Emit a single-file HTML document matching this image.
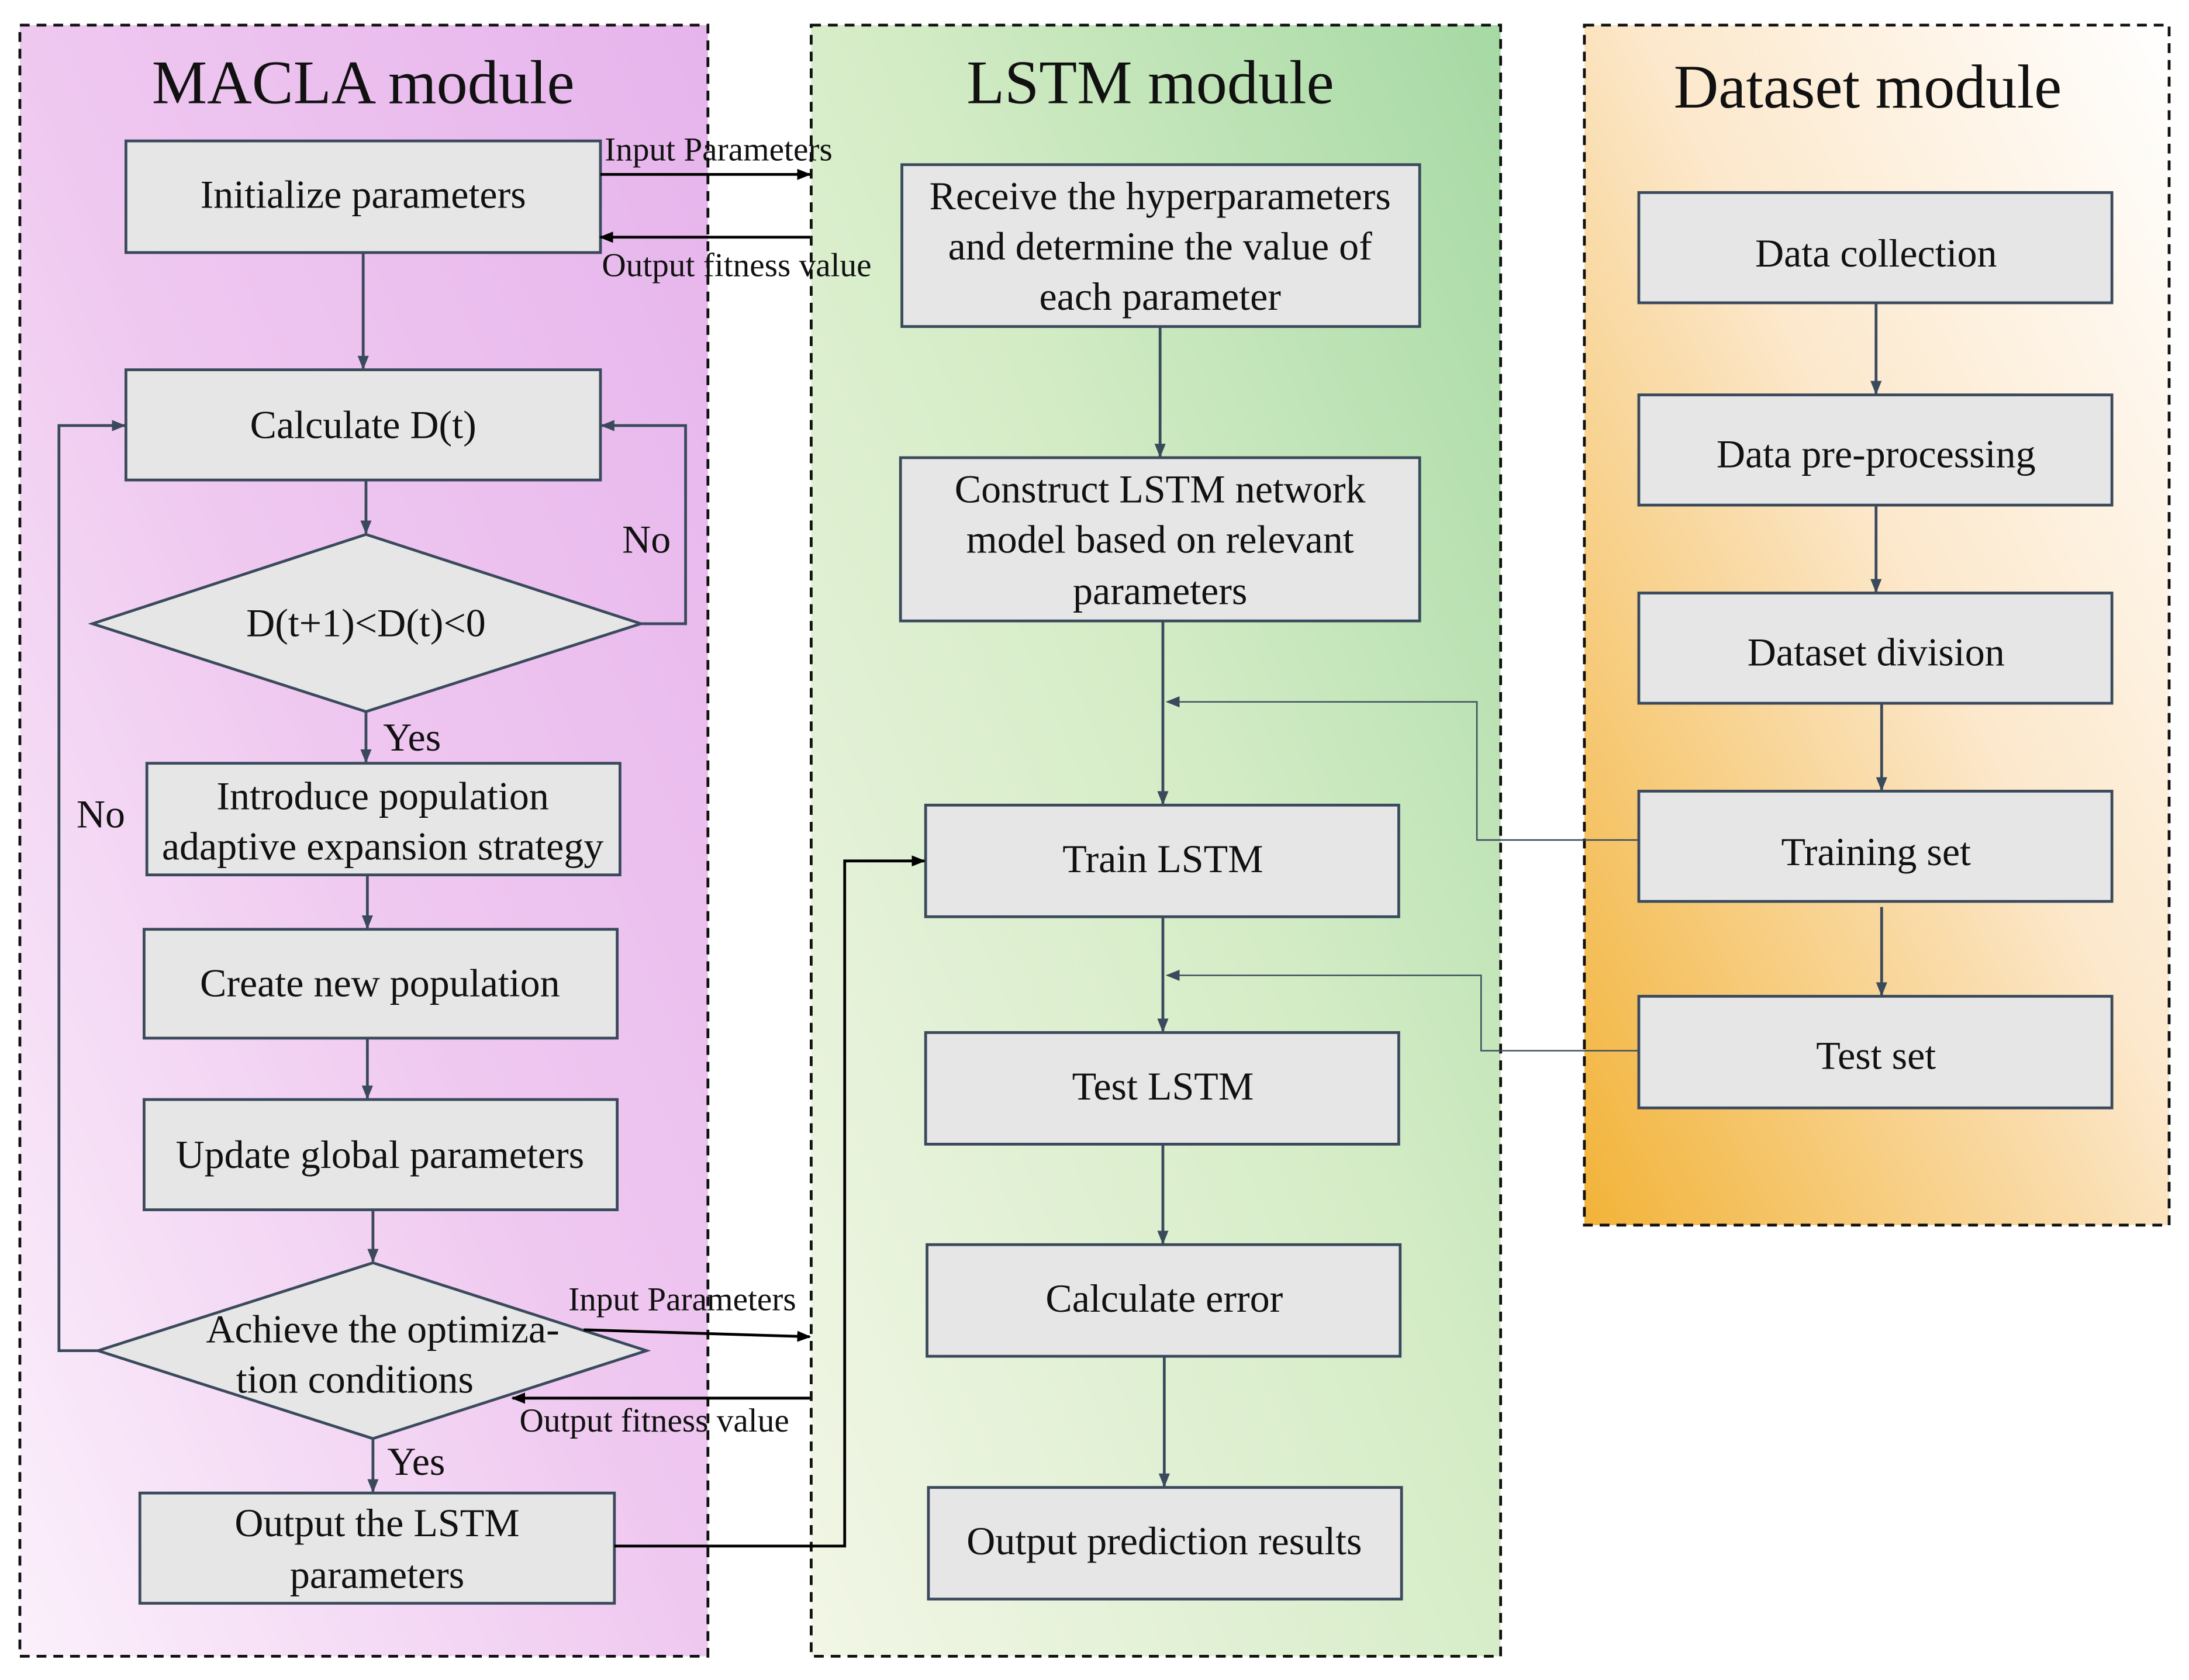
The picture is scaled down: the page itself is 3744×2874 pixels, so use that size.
<!DOCTYPE html>
<html><head><meta charset="utf-8"><style>
html,body{margin:0;padding:0;background:#fff;}
svg{display:block;}
text{font-family:"Liberation Serif",serif;fill:#111;}
</style></head><body>
<svg width="3744" height="2874" viewBox="0 0 1568 1204" xmlns="http://www.w3.org/2000/svg">
<defs>
<linearGradient id="gp" x1="1" y1="0" x2="0" y2="1">
<stop offset="0" stop-color="#e6b4ec"/><stop offset="0.5" stop-color="#efc8f0"/><stop offset="1" stop-color="#fbf0fb"/></linearGradient>
<linearGradient id="gg" x1="1" y1="0" x2="0" y2="1">
<stop offset="0" stop-color="#a6d9a4"/><stop offset="0.45" stop-color="#d4ecc6"/><stop offset="1" stop-color="#f2f6e6"/></linearGradient>
<linearGradient id="go" x1="1" y1="0" x2="0" y2="1">
<stop offset="0" stop-color="#ffffff"/><stop offset="0.45" stop-color="#fce8cc"/><stop offset="1" stop-color="#f2b338"/></linearGradient>
<marker id="a" markerWidth="10" markerHeight="10" refX="9" refY="5" orient="auto" markerUnits="userSpaceOnUse"><path d="M0,1 L10,5 L0,9 z" fill="#3a4a5c"/></marker>
<marker id="b" markerWidth="10" markerHeight="10" refX="9" refY="5" orient="auto" markerUnits="userSpaceOnUse"><path d="M0,1 L10,5 L0,9 z" fill="#000"/></marker>
</defs>
<rect x="14" y="18" width="493" height="1169" fill="url(#gp)" stroke="#111" stroke-width="2" stroke-dasharray="7,5"/>
<rect x="581" y="18" width="494" height="1169" fill="url(#gg)" stroke="#111" stroke-width="2" stroke-dasharray="7,5"/>
<rect x="1135" y="18" width="419" height="860" fill="url(#go)" stroke="#111" stroke-width="2" stroke-dasharray="7,5"/>
<g font-size="44.5" text-anchor="middle">
<text x="260" y="74">MACLA module</text>
<text x="824" y="74">LSTM module</text>
<text x="1338" y="77">Dataset module</text>
</g>
<g fill="#e6e6e6" stroke="#3a4a5c" stroke-width="2">
<rect x="90" y="101" width="340" height="80"/>
<rect x="90" y="265" width="340" height="79"/>
<polygon points="66,447 262,383 459,447 262,510"/>
<rect x="105" y="547" width="339" height="80"/>
<rect x="103" y="666" width="339" height="78"/>
<rect x="103" y="788" width="339" height="79"/>
<polygon points="70,968 267,905 463,968 267,1031"/>
<rect x="100" y="1070" width="340" height="79"/>
<rect x="646" y="118" width="371" height="116"/>
<rect x="645" y="328" width="372" height="117"/>
<rect x="663" y="577" width="339" height="80"/>
<rect x="663" y="740" width="339" height="80"/>
<rect x="664" y="892" width="339" height="80"/>
<rect x="665" y="1066" width="339" height="80"/>
<rect x="1174" y="138" width="339" height="79"/>
<rect x="1174" y="283" width="339" height="79"/>
<rect x="1174" y="425" width="339" height="79"/>
<rect x="1174" y="567" width="339" height="79"/>
<rect x="1174" y="714" width="339" height="80"/>
</g>
<g font-size="28.5" text-anchor="middle">
<text x="260" y="149">Initialize parameters</text>
<text x="260" y="314">Calculate D(t)</text>
<text x="262" y="456">D(t+1)&lt;D(t)&lt;0</text>
<text x="274" y="580">Introduce population</text>
<text x="274" y="616">adaptive expansion strategy</text>
<text x="272" y="714">Create new population</text>
<text x="272" y="837">Update global parameters</text>
<text x="274" y="962">Achieve the optimiza-</text>
<text x="254" y="998">tion conditions</text>
<text x="270" y="1101">Output the LSTM</text>
<text x="270" y="1138">parameters</text>
<text x="831" y="150">Receive the hyperparameters</text>
<text x="831" y="186">and determine the value of</text>
<text x="831" y="222">each parameter</text>
<text x="831" y="360">Construct LSTM network</text>
<text x="831" y="396">model based on relevant</text>
<text x="831" y="433">parameters</text>
<text x="833" y="625">Train LSTM</text>
<text x="833" y="788">Test LSTM</text>
<text x="834" y="940">Calculate error</text>
<text x="834" y="1114">Output prediction results</text>
<text x="1344" y="191">Data collection</text>
<text x="1344" y="335">Data pre-processing</text>
<text x="1344" y="477">Dataset division</text>
<text x="1344" y="620">Training set</text>
<text x="1344" y="766">Test set</text>
<text x="463" y="396">No</text>
<text x="72" y="593">No</text>
<text x="295" y="538">Yes</text>
<text x="298" y="1057">Yes</text>
</g>
<g font-size="24">
<text x="433" y="115">Input Parameters</text>
<text x="431" y="198">Output fitness value</text>
<text x="407" y="939">Input Parameters</text>
<text x="372" y="1026">Output fitness value</text>
</g>
<g stroke="#3a4a5c" stroke-width="2" fill="none">
<line x1="260" y1="181" x2="260" y2="264" marker-end="url(#a)"/>
<line x1="262" y1="344" x2="262" y2="382" marker-end="url(#a)"/>
<polyline points="459,447 491,447 491,305 431,305" marker-end="url(#a)"/>
<line x1="262" y1="510" x2="262" y2="546" marker-end="url(#a)"/>
<line x1="263" y1="627" x2="263" y2="665" marker-end="url(#a)"/>
<line x1="263" y1="744" x2="263" y2="787" marker-end="url(#a)"/>
<line x1="267" y1="867" x2="267" y2="904" marker-end="url(#a)"/>
<polyline points="70,968 42,968 42,305 89,305" marker-end="url(#a)"/>
<line x1="267" y1="1031" x2="267" y2="1069" marker-end="url(#a)"/>
<line x1="831" y1="234" x2="831" y2="327" marker-end="url(#a)"/>
<line x1="833" y1="445" x2="833" y2="576" marker-end="url(#a)"/>
<line x1="833" y1="657" x2="833" y2="739" marker-end="url(#a)"/>
<line x1="833" y1="820" x2="833" y2="891" marker-end="url(#a)"/>
<line x1="834" y1="972" x2="834" y2="1065" marker-end="url(#a)"/>
<line x1="1344" y1="217" x2="1344" y2="282" marker-end="url(#a)"/>
<line x1="1344" y1="362" x2="1344" y2="424" marker-end="url(#a)"/>
<line x1="1348" y1="504" x2="1348" y2="566" marker-end="url(#a)"/>
<line x1="1348" y1="650" x2="1348" y2="713" marker-end="url(#a)"/>
</g>
<g stroke="#3a4a5c" stroke-width="1" fill="none">
<polyline points="1174,602 1058,602 1058,503 836,503" marker-end="url(#a)"/>
<polyline points="1174,753 1061,753 1061,699 836,699" marker-end="url(#a)"/>
</g>
<g stroke="#000" stroke-width="2" fill="none">
<line x1="430" y1="125" x2="580" y2="125" marker-end="url(#b)"/>
<line x1="580" y1="170" x2="430" y2="170" marker-end="url(#b)"/>
<line x1="418" y1="953" x2="580" y2="958" marker-end="url(#b)"/>
<line x1="580" y1="1002" x2="367" y2="1002" marker-end="url(#b)"/>
<polyline points="440,1108 605,1108 605,617 662,617" marker-end="url(#b)"/>
</g>
</svg>
</body></html>
